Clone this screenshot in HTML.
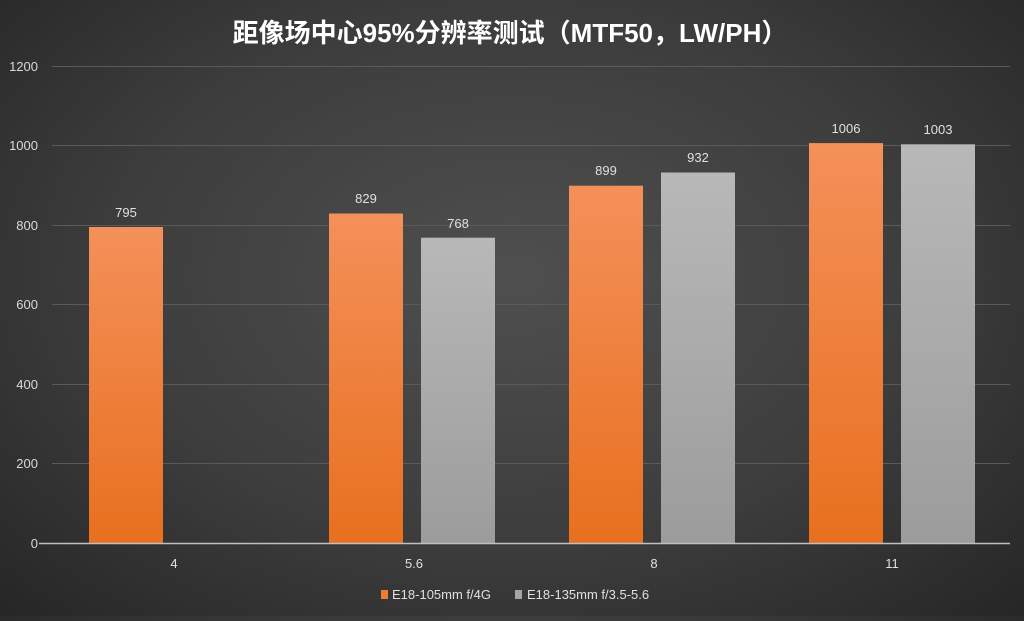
<!DOCTYPE html>
<html><head><meta charset="utf-8"><style>
html,body{margin:0;padding:0;}
body{width:1024px;height:616px;overflow:hidden;background:radial-gradient(ellipse at 50% 45%,#4f4f4f 0%,#3d3d3d 55%,#262626 100%);}
svg text{font-family:"Liberation Sans","Noto Sans CJK SC",sans-serif;}
</style></head><body>
<svg width="1024" height="616" xmlns="http://www.w3.org/2000/svg">
<defs>
<linearGradient id="og" x1="0" y1="0" x2="0" y2="1"><stop offset="0" stop-color="#f4905a"/><stop offset="1" stop-color="#e8701e"/></linearGradient>
<linearGradient id="gg" x1="0" y1="0" x2="0" y2="1"><stop offset="0" stop-color="#b8b8b8"/><stop offset="1" stop-color="#9c9c9c"/></linearGradient>
</defs>
<text x="510" y="42" text-anchor="middle" font-size="26" font-weight="bold" fill="#fff">距像场中心95%分辨率测试（MTF50，LW/PH）</text>
<g stroke="#5a5a5a" stroke-width="1">
<line x1="52" x2="1010" y1="66.5" y2="66.5"/><line x1="52" x2="1010" y1="145.5" y2="145.5"/>
<line x1="52" x2="1010" y1="225.5" y2="225.5"/><line x1="52" x2="1010" y1="304.5" y2="304.5"/>
<line x1="52" x2="1010" y1="384.5" y2="384.5"/><line x1="52" x2="1010" y1="463.5" y2="463.5"/>
</g>
<g font-size="13" fill="#d9d9d9" text-anchor="end">
<text x="38" y="71">1200</text><text x="38" y="150">1000</text><text x="38" y="230">800</text>
<text x="38" y="309">600</text><text x="38" y="389">400</text><text x="38" y="468">200</text><text x="38" y="548">0</text>
</g>
<rect x="89" y="227" width="74" height="316" fill="url(#og)"/>
<rect x="329" y="213.5" width="74" height="329.5" fill="url(#og)"/>
<rect x="569" y="185.7" width="74" height="357.3" fill="url(#og)"/>
<rect x="809" y="143.1" width="74" height="399.9" fill="url(#og)"/>
<rect x="421" y="237.7" width="74" height="305.3" fill="url(#gg)"/>
<rect x="661" y="172.5" width="74" height="370.5" fill="url(#gg)"/>
<rect x="901" y="144.3" width="74" height="398.7" fill="url(#gg)"/>
<line x1="39" x2="1010" y1="543.5" y2="543.5" stroke="#bfbfbf" stroke-width="1.5"/>
<g font-size="13" fill="#e0e0e0" text-anchor="middle">
<text x="126" y="217">795</text><text x="366" y="203">829</text><text x="458" y="228">768</text>
<text x="606" y="175">899</text><text x="698" y="162">932</text><text x="846" y="133">1006</text><text x="938" y="134">1003</text>
<text x="174" y="568">4</text><text x="414" y="568">5.6</text><text x="654" y="568">8</text><text x="892" y="568">11</text>
</g>
<rect x="381" y="590" width="7" height="9" fill="#ee7d31"/>
<text x="392" y="599" font-size="13" fill="#e0e0e0">E18-105mm f/4G</text>
<rect x="515" y="590" width="7" height="9" fill="#a5a5a5"/>
<text x="527" y="599" font-size="13" fill="#e0e0e0">E18-135mm f/3.5-5.6</text>
</svg>
</body></html>
